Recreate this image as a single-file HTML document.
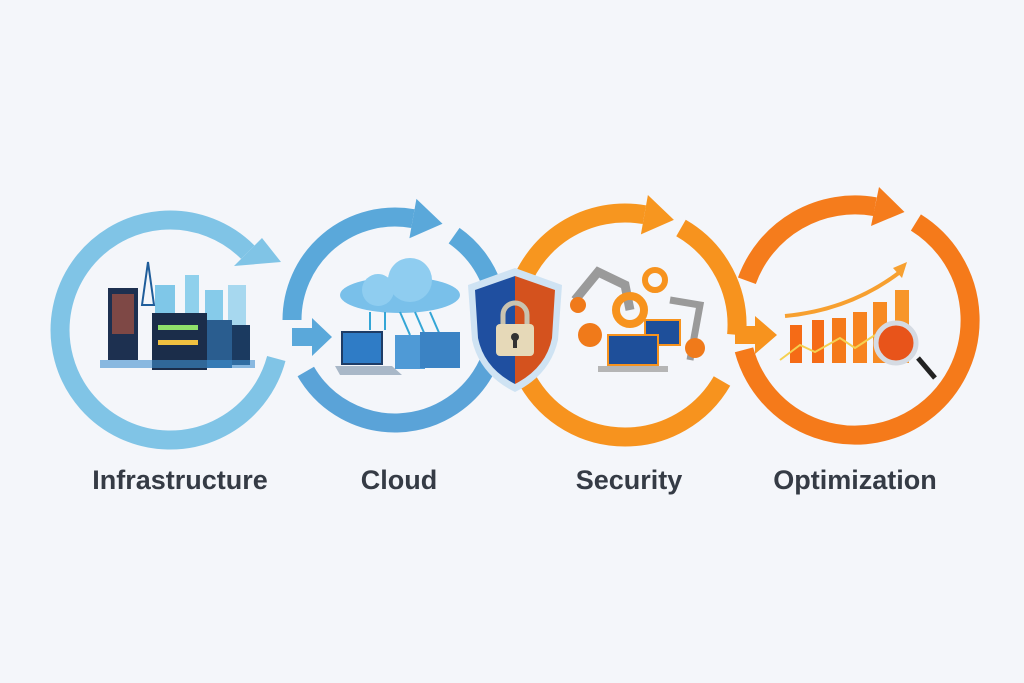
<!DOCTYPE html>
<html><head><meta charset="utf-8"><style>
html,body{margin:0;padding:0;background:#f4f6fa;}
svg{display:block}
text{font-family:"Liberation Sans",sans-serif;font-weight:bold;fill:#353b45;font-size:27px;text-anchor:middle}
</style></head><body>
<svg width="1024" height="683" viewBox="0 0 1024 683">
<rect width="1024" height="683" fill="#f4f6fa"/>
<g fill="none" stroke-width="19">
<path d="M276.3 358.5 A110 110 0 1 1 247.8 252.2" stroke="#80c4e6"/>
<path d="M292 320 A103 103 0 0 1 412.9 218.6" stroke="#5aa8da"/>
<path d="M454.1 235.6 A103 103 0 0 1 491.8 284.8" stroke="#5aa8da"/>
<path d="M488.3 363.5 A103 103 0 0 1 305.8 371.5" stroke="#5aa3d8"/>
<path d="M516.8 296 A112 112 0 0 1 644.4 214.7" stroke="#f7961f"/>
<path d="M681 228 A112 112 0 0 1 736.6 334.8" stroke="#f7931e"/>
<path d="M722 381 A112 112 0 0 1 528 381" stroke="#f7931e"/>
<path d="M746.9 280.7 A115 115 0 0 1 875 206.7" stroke="#f57c1c"/>
<path d="M915.9 222.5 A115 115 0 1 1 744 349.8" stroke="#f57a1a"/>
</g>
<polygon points="262,238 234,266 281,262" fill="#80c4e6"/>
<polygon points="416.4,198.9 409.4,238.3 442.5,223.8" fill="#5aa8da"/>
<polygon points="292,328 312,328 312,318 332,337 312,356 312,346 292,346" fill="#5aa8da"/>
<polygon points="647.9,195 640.9,234.4 673.9,219.9" fill="#f7961f"/>
<polygon points="735,326 755,326 755,316 777,335 755,354 755,344 735,344" fill="#f7931e"/>
<polygon points="879,187 871,226 904.5,212" fill="#f57c1c"/>

<g>
<rect x="155" y="285" width="20" height="60" fill="#7fc7e8"/>
<rect x="185" y="275" width="14" height="60" fill="#8fd0ec"/>
<rect x="205" y="290" width="18" height="60" fill="#86cbea"/>
<rect x="228" y="285" width="18" height="65" fill="#a7d8ef"/>
<path d="M142 305 L148 262 L154 305 Z" fill="none" stroke="#1f5d9a" stroke-width="2"/>
<rect x="108" y="288" width="30" height="72" fill="#1d3050"/>
<rect x="112" y="294" width="22" height="40" fill="#e0603a" opacity="0.5"/>
<rect x="152" y="313" width="55" height="57" fill="#1b2d4a"/>
<rect x="158" y="325" width="40" height="5" fill="#8fe06a"/>
<rect x="158" y="340" width="40" height="5" fill="#f0c040"/>
<rect x="207" y="320" width="25" height="48" fill="#2a5d8f"/>
<rect x="232" y="325" width="18" height="40" fill="#1b3a60"/>
<rect x="100" y="360" width="155" height="8" fill="#3f8fce" opacity="0.6"/>
</g>
<g>
<ellipse cx="400" cy="295" rx="60" ry="18" fill="#79c0ea"/>
<circle cx="410" cy="280" r="22" fill="#8fcdf0"/>
<circle cx="378" cy="290" r="16" fill="#8fcdf0"/>
<g stroke="#34a6d6" stroke-width="2"><line x1="370" y1="312" x2="370" y2="330"/><line x1="385" y1="312" x2="385" y2="330"/><line x1="400" y1="312" x2="410" y2="335"/><line x1="415" y1="312" x2="425" y2="335"/><line x1="430" y1="312" x2="440" y2="335"/></g>
<rect x="342" y="332" width="40" height="32" fill="#2f7cc6" stroke="#1e3c66" stroke-width="2"/>
<polygon points="335,366 392,366 402,375 340,375" fill="#a9b8c8"/>
<rect x="395" y="335" width="30" height="34" fill="#4f9ad6"/>
<rect x="420" y="332" width="40" height="36" fill="#3b83c4"/>
</g>
<g>
<path d="M515 268 L562 285 L558 340 Q550 375 515 392 Q480 375 472 340 L468 285 Z" fill="#cfe3f3"/>
<path d="M515 276 L515 384 Q484 368 478 338 L475 290 Z" fill="#1f4fa0"/>
<path d="M515 276 L555 290 L552 338 Q546 368 515 384 Z" fill="#d4521e"/>
<path d="M503 325 v-10 a12 12 0 0 1 24 0 v10" fill="none" stroke="#c9c3b0" stroke-width="5"/>
<rect x="496" y="324" width="38" height="32" rx="4" fill="#e6d9b8"/>
<circle cx="515" cy="337" r="4" fill="#333"/><rect x="513" y="338" width="4" height="10" fill="#333"/>
</g>
<g>
<path d="M575 300 L598 272 L625 285 L630 310" fill="none" stroke="#9a9a9a" stroke-width="9"/>
<circle cx="578" cy="305" r="8" fill="#f07a1a"/>
<circle cx="630" cy="310" r="14" fill="none" stroke="#f7931e" stroke-width="8"/>
<circle cx="655" cy="280" r="10" fill="none" stroke="#f7931e" stroke-width="6"/>
<path d="M690 360 L700 305 L670 300" fill="none" stroke="#9a9a9a" stroke-width="7"/>
<circle cx="590" cy="335" r="12" fill="#f07a1a"/>
<circle cx="695" cy="348" r="10" fill="#f07a1a"/>
<rect x="645" y="320" width="35" height="25" fill="#1e4f9a" stroke="#f7931e" stroke-width="2"/>
<rect x="608" y="335" width="50" height="30" fill="#1e4f9a" stroke="#f7931e" stroke-width="2"/>
<rect x="598" y="366" width="70" height="6" fill="#b5b5b5"/>
</g>
<g>
<rect x="790" y="325" width="12" height="38" fill="#f56b16"/>
<rect x="812" y="320" width="12" height="43" fill="#f56b16"/>
<rect x="832" y="318" width="14" height="45" fill="#f57a1a"/>
<rect x="853" y="312" width="14" height="51" fill="#f78320"/>
<rect x="873" y="302" width="14" height="61" fill="#f78a22"/>
<rect x="895" y="290" width="14" height="73" fill="#f7962a"/>
<path d="M785 316 Q850 310 900 272" fill="none" stroke="#f7a030" stroke-width="4"/>
<polygon points="893,268 907,262 902,278" fill="#f7a030"/>
<polyline points="780,360 800,345 815,352 840,338 855,348 875,335" fill="none" stroke="#f5d050" stroke-width="2"/>
<line x1="918" y1="358" x2="935" y2="378" stroke="#222" stroke-width="5"/>
<circle cx="896" cy="343" r="20" fill="#e8541a" stroke="#d5dbe3" stroke-width="5"/>
</g>

<text x="180" y="489">Infrastructure</text>
<text x="399" y="489">Cloud</text>
<text x="629" y="489">Security</text>
<text x="855" y="489">Optimization</text>
</svg>
</body></html>
